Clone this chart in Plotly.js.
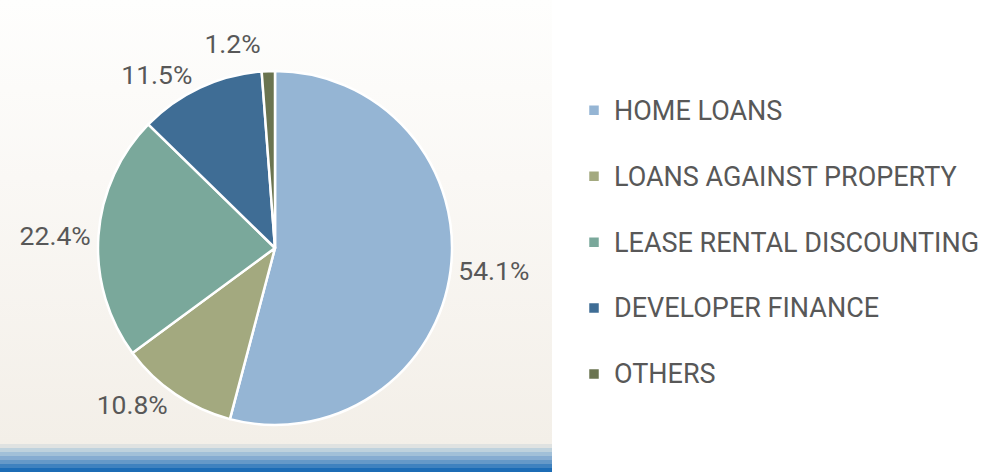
<!DOCTYPE html>
<html>
<head>
<meta charset="utf-8">
<script src="https://cdn.plot.ly/plotly-3.0.1.min.js"></script>
<style>
  html, body { margin: 0; padding: 0; background: #ffffff; }
  #wrap { position: relative; width: 1000px; height: 476px; overflow: hidden; }
  #bg { position: absolute; left: 0; top: 0; width: 552px; height: 444px;
        background: linear-gradient(to bottom, #fefefd 0%, #faf8f5 40%, #f3efe8 100%); }
  #stripes { position: absolute; left: 0; top: 444px; width: 552px; height: 28px;
        background: linear-gradient(to bottom,
          #dfe2e1 0px, #dfe2e1 4px,
          #bfd2dd 4px, #bfd2dd 8px,
          #a2c0d8 8px, #a2c0d8 12px,
          #86acd1 12px, #86acd1 16px,
          #6599c8 16px, #6599c8 20px,
          #3f82bf 20px, #3f82bf 24px,
          #1c6cb5 24px, #1c6cb5 28px); }
  #chart { position: absolute; left: 0; top: 0; width: 1000px; height: 476px; }
  #chart path.textline { display: none; }
</style>
</head>
<body>
<div id="wrap">
  <div id="bg"></div>
  <div id="stripes"></div>
  <div id="chart"></div>
</div>
<script>
const categories = ['HOME LOANS', 'LOANS AGAINST PROPERTY', 'LEASE RENTAL DISCOUNTING', 'DEVELOPER FINANCE', 'OTHERS'];
const shares = [54.1, 10.8, 22.4, 11.5, 1.2];
const percentLabels = ['54.1%', '10.8%', '22.4%', '11.5%', '1.2%'];
const sliceColors = ['#95b5d4', '#a3a97f', '#7aa89b', '#3f6d95', '#6a7450'];

const textColor = '#585858';
const fontFamily = 'Roboto, "Open Sans", sans-serif';

const trace = {
  type: 'pie',
  labels: categories.map(c => '<span style="font-size:27px">' + c + '</span><br>&nbsp;'),
  values: shares,
  text: percentLabels,
  textinfo: 'text',
  textposition: 'outside',
  sort: false,
  direction: 'clockwise',
  rotation: 0,
  marker: { colors: sliceColors, line: { color: '#ffffff', width: 2.5 } },
  outsidetextfont: { family: fontFamily, size: 26.5, color: textColor },
  domain: { x: [0.098, 0.452], y: [0.107, 0.851] },
  hoverinfo: 'none',
  automargin: false
};

const layout = {
  width: 1000,
  height: 476,
  margin: { l: 0, r: 0, t: 0, b: 0 },
  paper_bgcolor: 'rgba(0,0,0,0)',
  plot_bgcolor: 'rgba(0,0,0,0)',
  showlegend: true,
  legend: {
    x: 0.574, xanchor: 'left',
    y: 0.815, yanchor: 'top',
    valign: 'top',
    font: { family: fontFamily, size: 24.2, color: textColor },
    itemwidth: 30,
    bgcolor: 'rgba(0,0,0,0)'
  }
};

Plotly.newPlot('chart', [trace], layout, { staticPlot: true, displayModeBar: false });
</script>
</body>
</html>
